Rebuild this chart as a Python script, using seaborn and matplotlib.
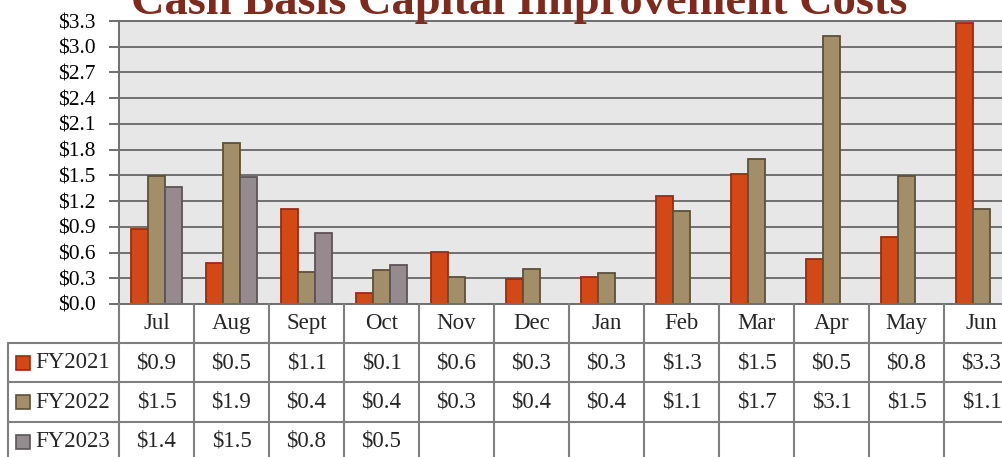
import matplotlib
matplotlib.use("Agg")
import matplotlib.pyplot as plt
import seaborn as sns
import pandas as pd
import numpy as np
from matplotlib.patches import Rectangle
from matplotlib.lines import Line2D
from matplotlib.transforms import blended_transform_factory

# ---------------- data ----------------
months = ["Jul", "Aug", "Sept", "Oct", "Nov", "Dec", "Jan", "Feb", "Mar", "Apr", "May", "Jun"]
fy2021 = [0.88, 0.48, 1.11, 0.13, 0.61, 0.29, 0.31, 1.26, 1.52, 0.53, 0.78, 3.28]
fy2022 = [1.49, 1.88, 0.37, 0.40, 0.31, 0.41, 0.36, 1.09, 1.69, 3.13, 1.49, 1.11]
fy2023 = [1.36, 1.48, 0.83, 0.46, None, None, None, None, None, None, None, None]
series_names = ["FY2021", "FY2022", "FY2023"]
y_ticks = [0.0, 0.3, 0.6, 0.9, 1.2, 1.5, 1.8, 2.1, 2.4, 2.7, 3.0, 3.3]
title = "Cash Basis Capital Improvement Costs"

fill_colors = {"FY2021": "#D34817", "FY2022": "#A28F6A", "FY2023": "#958B8E"}
edge_colors = {"FY2021": "#9A2B0E", "FY2022": "#5E5038", "FY2023": "#5C5357"}

series_values = {"FY2021": fy2021, "FY2022": fy2022, "FY2023": fy2023}
rows = []
for s in series_names:
    for m, v in zip(months, series_values[s]):
        rows.append({"month": m, "series": s, "value": np.nan if v is None else v})
df = pd.DataFrame(rows)

# ---------------- figure ----------------
sns.set_style("white")
plt.rcParams["font.family"] = ["Liberation Serif", "DejaVu Serif"]

W, H = 1003, 457
fig = plt.figure(figsize=(W / 100, H / 100), dpi=100)

def fx(px):
    return px / W

def fy(py):
    return 1 - py / H

ax_left, ax_right, ax_top, ax_bottom = 119, 1019, 21, 304
ax = fig.add_axes([fx(ax_left), fy(ax_bottom), (ax_right - ax_left) / W, (ax_bottom - ax_top) / H])
ax.set_facecolor("#E7E7E7")

sns.barplot(data=df, x="month", y="value", hue="series", order=months,
            hue_order=series_names, palette=fill_colors, width=0.68,
            errorbar=None, legend=False, saturation=1, linewidth=1.3, ax=ax)
for cont, s in zip(ax.containers, series_names):
    for bar in cont:
        bar.set_edgecolor(edge_colors[s])
        bar.set_linewidth(1.3)

grid_col = "#6F6F6F"
ax.set_ylim(0, 3.3)
ax.set_xlim(-0.5, len(months) - 0.5)
ax.set_yticks(y_ticks)
ax.set_yticklabels([f"${t:.1f}" for t in y_ticks])
ax.set_axisbelow(True)
ax.yaxis.grid(True, color=grid_col, linewidth=1.4)
ax.xaxis.grid(False)
ax.tick_params(axis="y", left=True, length=7, width=1.4, color=grid_col,
               labelsize=15.5, labelcolor="black", pad=10)
ax.tick_params(axis="x", bottom=False, labelbottom=False)
ax.set_xlabel("")
ax.set_ylabel("")
for side in ["left", "bottom", "top"]:
    ax.spines[side].set_visible(True)
    ax.spines[side].set_color(grid_col)
    ax.spines[side].set_linewidth(1.4)
ax.spines["right"].set_visible(False)

# ---------------- data table ----------------
trans = blended_transform_factory(ax.transData, fig.transFigure)
line_col = "#7F7F7F"
row_edges = [304, 343, 382, 422, 461]

for py in row_edges[1:4]:
    fig.add_artist(Line2D([fx(8), 1.0], [fy(py), fy(py)], transform=fig.transFigure,
                          color=line_col, linewidth=1.5))
for i in range(len(months) + 1):
    fig.add_artist(Line2D([i - 0.5, i - 0.5], [fy(304), 0.0], transform=trans,
                          color=line_col, linewidth=1.5))
fig.add_artist(Line2D([fx(8), fx(8)], [fy(343), 0.0], transform=fig.transFigure,
                      color=line_col, linewidth=1.5))

font_sz = 16.5
hdr_y = (row_edges[0] + row_edges[1]) / 2
for i, m in enumerate(months):
    fig.text(i, fy(hdr_y), m, transform=trans, ha="center", va="center", fontsize=font_sz)

for r, s in enumerate(series_names):
    cy = (row_edges[r + 1] + row_edges[r + 2]) / 2
    # legend key
    sq = 14
    fig.add_artist(Rectangle((fx(16), fy(cy + sq / 2)), sq / W, sq / H, transform=fig.transFigure,
                             facecolor=fill_colors[s], edgecolor=edge_colors[s], linewidth=1.2))
    fig.text(fx(35), fy(cy), s, ha="left", va="center", fontsize=font_sz)
    for i, v in enumerate(series_values[s]):
        if v is None:
            continue
        fig.text(i, fy(cy), f"${v:.1f}", transform=trans, ha="center", va="center", fontsize=font_sz)

# ---------------- title ----------------
fig.text(fx(519), fy(14), title, ha="center", va="baseline", fontsize=33.5,
         fontweight="bold", color="#7E2B1F")

fig.savefig("out.png", dpi=100)
